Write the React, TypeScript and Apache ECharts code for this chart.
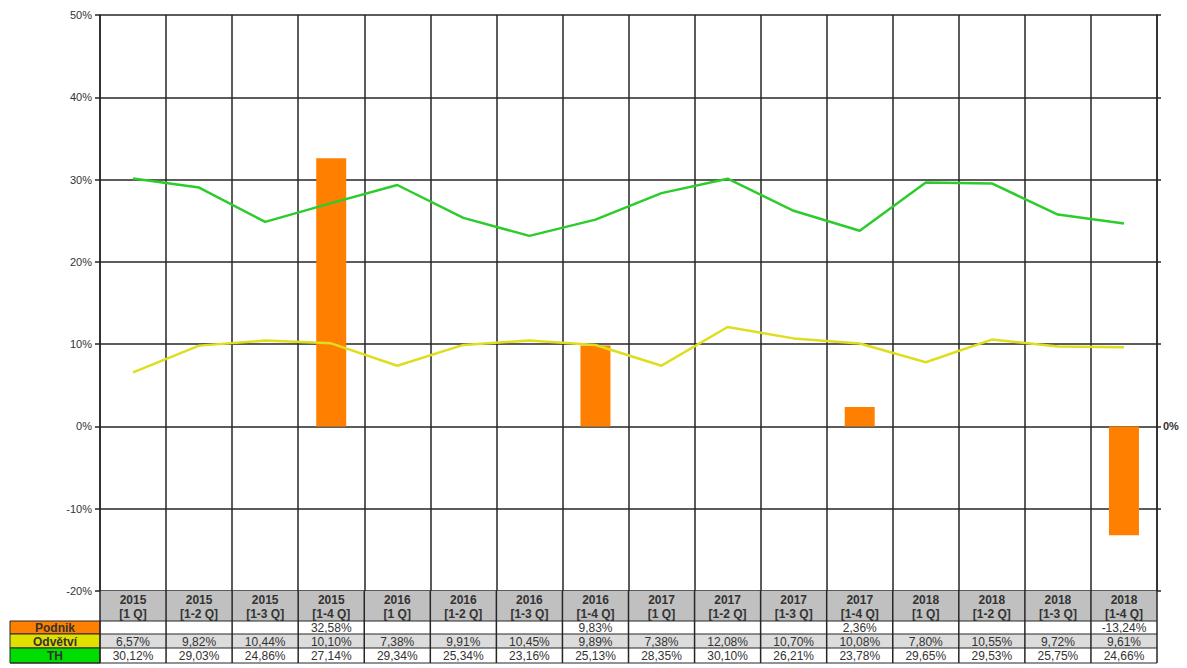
import React, { useEffect, useRef } from "react";
import * as echarts from "echarts";

const years = ["2015","2015","2015","2015","2016","2016","2016","2016","2017","2017","2017","2017","2018","2018","2018","2018"];
const periods = ["[1 Q]","[1-2 Q]","[1-3 Q]","[1-4 Q]","[1 Q]","[1-2 Q]","[1-3 Q]","[1-4 Q]","[1 Q]","[1-2 Q]","[1-3 Q]","[1-4 Q]","[1 Q]","[1-2 Q]","[1-3 Q]","[1-4 Q]"];
const categories = years.map((y, i) => `${y} ${periods[i]}`);
const podnik: (number | null)[] = [null, null, null, 32.58, null, null, null, 9.83, null, null, null, 2.36, null, null, null, -13.24];
const odvetvi = [6.57, 9.82, 10.44, 10.10, 7.38, 9.91, 10.45, 9.89, 7.38, 12.08, 10.70, 10.08, 7.80, 10.55, 9.72, 9.61];
const th = [30.12, 29.03, 24.86, 27.14, 29.34, 25.34, 23.16, 25.13, 28.35, 30.10, 26.21, 23.78, 29.65, 29.53, 25.75, 24.66];
const rowNames = ["Podnik", "Odvětví", "TH"];

const FONT = "Arial, 'Liberation Sans', sans-serif";
const C_ORANGE = "#ff8000";
const C_YELLOW = "#dede1e";
const C_GREEN = "#2ccc2c";
const rowFill = ["#ff8000", "#e0e000", "#00dd00"];
const cellFill = ["#ffffff", "#dcdcdc", "#ffffff"];
const LINE = "#262626";

const fmt = (v: number | null) => (v == null ? "" : v.toFixed(2).replace(".", ",") + "%");

export default function App() {
  const ref = useRef<HTMLDivElement>(null);
  useEffect(() => {
    const chart = echarts.init(ref.current!, null, { renderer: "svg" });
    const gridTop = 15, gridBottom = 77;
    const option: any = {
      animation: false,
      backgroundColor: "#ffffff",
      grid: { left: 100, right: 30, top: gridTop, bottom: gridBottom },
      xAxis: {
        type: "category",
        data: categories,
        boundaryGap: true,
        axisLabel: { show: false, interval: 0 },
        axisTick: { show: false, interval: 0 },
        axisLine: { show: false },
        splitLine: { show: true, interval: 0, lineStyle: { color: LINE, width: 1.5 } },
      },
      yAxis: [
        {
          type: "value",
          min: -20,
          max: 50,
          interval: 10,
          axisLine: { show: true, lineStyle: { color: LINE, width: 1.5 } },
          axisTick: { show: true, length: 5, lineStyle: { color: LINE, width: 1.5 } },
          axisLabel: { formatter: (v: number) => `${v}%`, color: "#333", fontFamily: FONT, fontSize: 11, margin: 8 },
          splitLine: { show: true, lineStyle: { color: LINE, width: 1.5 } },
        },
        {
          type: "value",
          position: "right",
          min: -20,
          max: 50,
          interval: 10,
          axisLine: { show: true, lineStyle: { color: LINE, width: 1.5 } },
          axisTick: { show: true, length: 4, lineStyle: { color: LINE, width: 1.5 } },
          axisLabel: { formatter: (v: number) => (v === 0 ? "0%" : ""), color: "#333", fontFamily: FONT, fontSize: 11, fontWeight: "bold", margin: 6 },
          splitLine: { show: false },
        },
      ],
      series: [
        { name: "Podnik", type: "bar", data: podnik, barWidth: 30, itemStyle: { color: C_ORANGE }, z: 2 },
        { name: "Odvětví", type: "line", data: odvetvi, symbol: "none", lineStyle: { color: C_YELLOW, width: 2.5 }, z: 3 },
        { name: "TH", type: "line", data: th, symbol: "none", lineStyle: { color: C_GREEN, width: 2.5 }, z: 4 },
      ],
    };
    chart.setOption(option);

    // Build the data table under the plot from the category axis scale
    const x0 = chart.convertToPixel({ xAxisIndex: 0 }, 0) as number;
    const x1 = chart.convertToPixel({ xAxisIndex: 0 }, 1) as number;
    const colW = x1 - x0;
    const yBottom = chart.convertToPixel({ yAxisIndex: 0 }, -20) as number;
    const headerTop = yBottom;
    const headerH = 30;
    const rowH = [13, 14, 15];
    const rowTops = [headerTop + headerH, headerTop + headerH + rowH[0], headerTop + headerH + rowH[0] + rowH[1]];
    const tableBottom = rowTops[2] + rowH[2];
    const leftX = x0 - colW / 2;
    const rightX = leftX + colW * categories.length;
    const els: any[] = [];
    const rowData = [podnik, odvetvi, th];

    categories.forEach((_, i) => {
      const cx = chart.convertToPixel({ xAxisIndex: 0 }, i) as number;
      const l = cx - colW / 2;
      els.push({ type: "rect", shape: { x: l, y: headerTop, width: colW, height: headerH }, style: { fill: "#c0c0c0" }, z: 1 });
      els.push({
        type: "text", x: cx, y: headerTop + headerH / 2 + 1, z: 5,
        style: { text: `${years[i]}\n${periods[i]}`, fill: "#333", font: `bold 12px ${FONT}`, align: "center", verticalAlign: "middle", lineHeight: 14 },
      });
      rowData.forEach((arr, r) => {
        els.push({ type: "rect", shape: { x: l, y: rowTops[r], width: colW, height: rowH[r] }, style: { fill: cellFill[r] }, z: 1 });
        els.push({
          type: "text", x: cx, y: rowTops[r] + rowH[r] / 2 + 0.5, z: 5,
          style: { text: fmt(arr[i] as number | null), fill: "#333", font: `12px ${FONT}`, align: "center", verticalAlign: "middle" },
        });
      });
    });
    // row label boxes
    rowNames.forEach((n, r) => {
      els.push({ type: "rect", shape: { x: 10, y: rowTops[r], width: leftX - 10, height: rowH[r] }, style: { fill: rowFill[r], stroke: LINE, lineWidth: 1 }, z: 2 });
      els.push({
        type: "text", x: (10 + leftX) / 2, y: rowTops[r] + rowH[r] / 2 + 0.5, z: 5,
        style: { text: n, fill: "#333", font: `bold 12px ${FONT}`, align: "center", verticalAlign: "middle" },
      });
    });
    // table grid lines
    for (let i = 0; i <= categories.length; i++) {
      const x = leftX + i * colW;
      els.push({ type: "line", shape: { x1: x, y1: headerTop, x2: x, y2: tableBottom }, style: { stroke: LINE, lineWidth: 1.5 }, z: 4 });
    }
    [headerTop + headerH, rowTops[1], rowTops[2], tableBottom].forEach((y) => {
      els.push({ type: "line", shape: { x1: leftX, y1: y, x2: rightX, y2: y }, style: { stroke: LINE, lineWidth: 1 }, z: 4 });
    });
    els.push({ type: "line", shape: { x1: 10, y1: tableBottom, x2: leftX, y2: tableBottom }, style: { stroke: LINE, lineWidth: 1 }, z: 4 });

    chart.setOption({ graphic: els });
    return () => chart.dispose();
  }, []);
  return <div ref={ref} style={{ position: "fixed", left: 0, top: 0, width: 1187, height: 668 }} />;
}
